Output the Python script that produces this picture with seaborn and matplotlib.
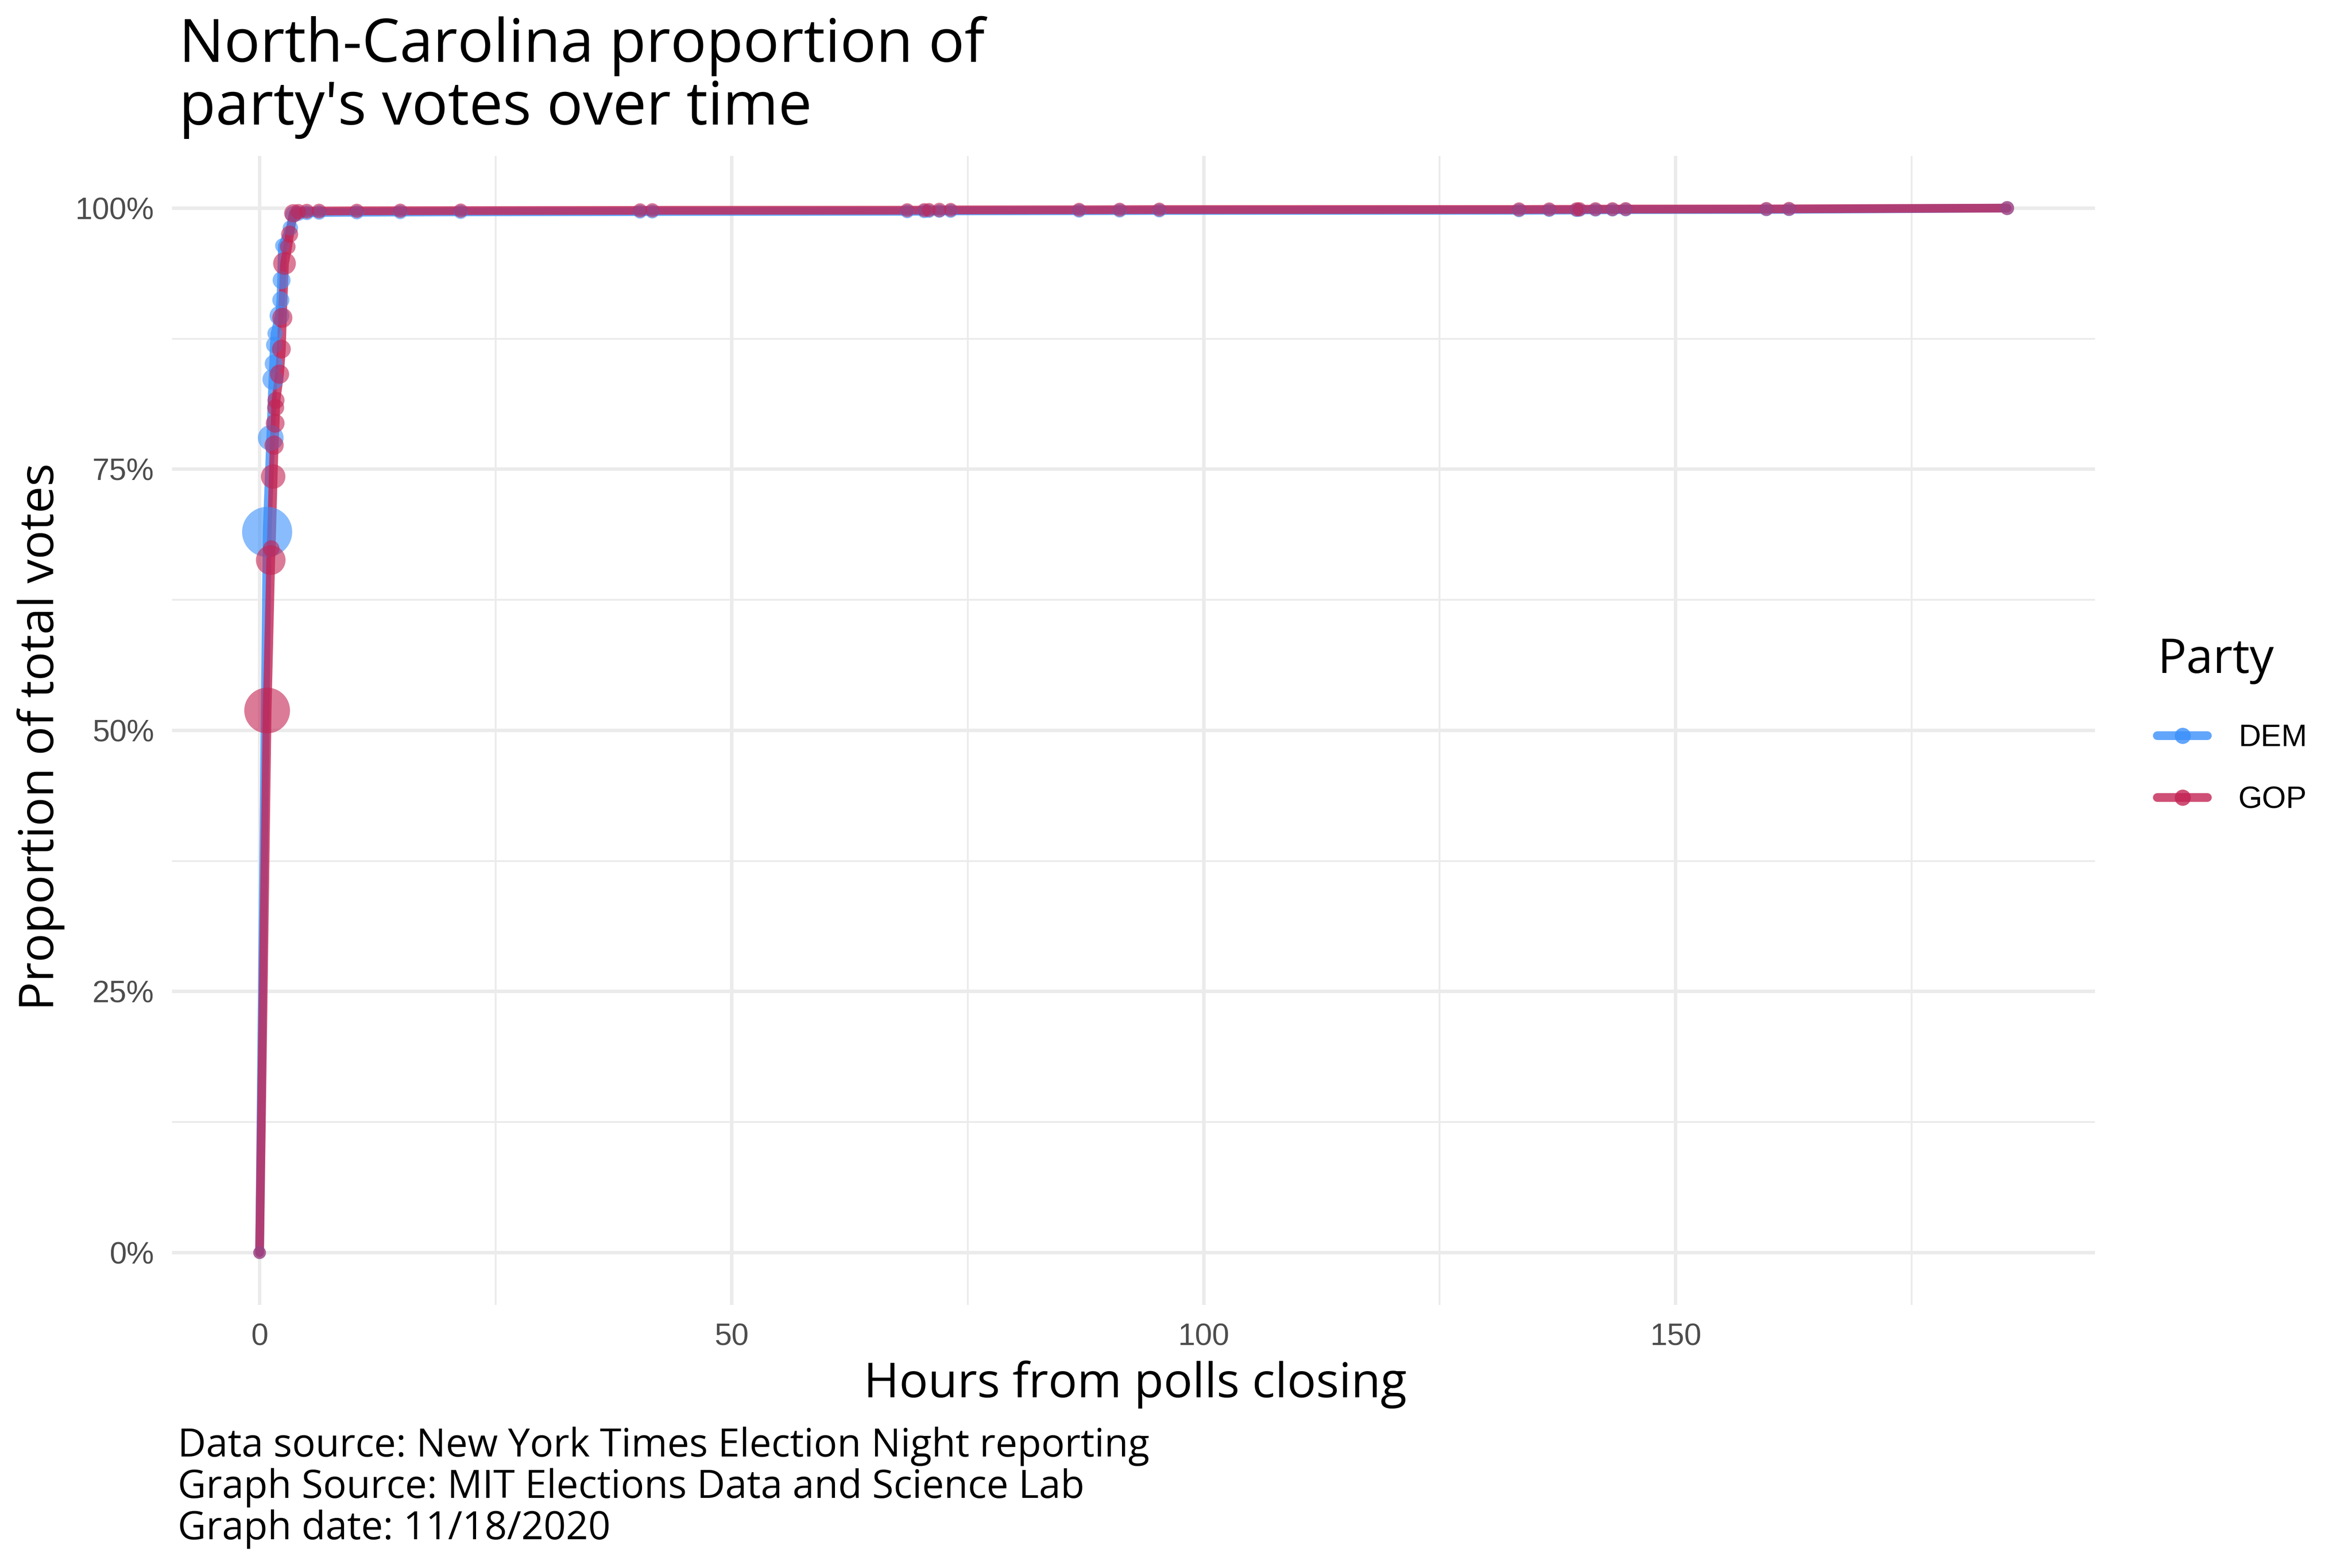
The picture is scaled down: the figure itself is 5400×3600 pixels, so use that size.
import numpy as np
import pandas as pd
import seaborn as sns
import matplotlib as mpl
import matplotlib.pyplot as plt
from matplotlib.lines import Line2D
from matplotlib.ticker import PercentFormatter, MultipleLocator

# --- Data ---
# hours from polls closing, cumulative share of the party's votes (%), votes in that batch (thousands)
dem_hours = [0, 0.80, 1.18, 1.41, 1.49, 1.56, 1.64, 2.10, 2.25, 2.33, 2.42, 3.26, 3.57,
             4.1, 5.0, 6.3, 10.3, 14.9, 21.3, 40.3, 41.6, 68.6, 70.4, 70.9, 72.0, 73.2,
             86.8, 91.1, 95.3, 133.4, 136.6, 139.5, 139.8, 141.5, 143.3, 144.7, 159.6, 162.0, 185.1]
dem_share = [0, 69.0, 78.0, 83.6, 85.1, 86.9, 88.0, 89.7, 91.2, 93.1, 96.4, 98.1, 99.4,
             99.5, 99.55, 99.58, 99.6, 99.62, 99.64, 99.66, 99.67, 99.69, 99.7, 99.71, 99.72, 99.73,
             99.75, 99.76, 99.77, 99.79, 99.8, 99.81, 99.82, 99.83, 99.84, 99.85, 99.87, 99.88, 100.0]
dem_batch_k = [0, 1852, 225, 90, 36, 20, 9, 64, 25, 36, 5, 9, 20,
               8, 5, 4, 3, 3, 3, 2, 2, 2, 2, 1, 1, 2,
               2, 2, 2, 2, 1, 2, 1, 1, 1, 1, 1, 1, 2]

gop_hours = [0, 0.80, 1.18, 1.23, 1.44, 1.54, 1.65, 1.70, 1.74, 2.11, 2.31, 2.41, 2.64, 2.98, 3.18, 3.57,
             4.1, 5.0, 6.3, 10.3, 14.9, 21.3, 40.3, 41.6, 68.6, 70.4, 70.9, 72.0, 73.2,
             86.8, 91.1, 95.3, 133.4, 136.6, 139.5, 139.8, 141.5, 143.3, 144.7, 159.6, 162.0, 185.1]
gop_share = [0, 51.9, 66.3, 67.4, 74.3, 77.3, 79.4, 80.9, 81.6, 84.1, 86.5, 89.5, 94.7, 96.3, 97.5, 99.5,
             99.65, 99.7, 99.72, 99.74, 99.75, 99.76, 99.78, 99.79, 99.8, 99.81, 99.82, 99.82, 99.83,
             99.84, 99.85, 99.86, 99.87, 99.88, 99.88, 99.89, 99.9, 99.9, 99.91, 99.92, 99.93, 100.0]
gop_batch_k = [0, 1446, 381, 20, 183, 56, 49, 25, 25, 56, 49, 72, 133, 12, 25, 42,
               10, 6, 5, 3, 3, 3, 3, 3, 2, 2, 2, 4, 2,
               2, 2, 2, 3, 2, 3, 3, 2, 2, 2, 2, 2, 2]

parties = ['DEM', 'GOP']
party_colors = {'DEM': '#3b90fa', 'GOP': '#c32454'}

df = pd.concat([
    pd.DataFrame({'hours': dem_hours, 'share': dem_share, 'votes': dem_batch_k, 'party': 'DEM'}),
    pd.DataFrame({'hours': gop_hours, 'share': gop_share, 'votes': gop_batch_k, 'party': 'GOP'}),
], ignore_index=True)

# --- Fonts ---
head_font = ['Open Sans', 'DejaVu Sans']
tick_font = ['Liberation Sans', 'DejaVu Sans']

sns.set_theme(style='white')
plt.rcParams['font.family'] = tick_font

# point area scale like ggplot's scale_size (diameter grows with sqrt of value)
d_min, d_max = 7.0, 27.6
v_max = df['votes'].max()


def _fwd(v):
    return (d_min + (d_max - d_min) * np.sqrt(np.clip(v, 0, None) / v_max)) ** 2


def _inv(s):
    return v_max * ((np.sqrt(s) - d_min) / (d_max - d_min)) ** 2


size_norm = mpl.colors.FuncNorm((_fwd, _inv), vmin=0, vmax=v_max)

fig = plt.figure(figsize=(18, 12), dpi=300)
ax = fig.add_axes([0.0732, 0.1678, 0.8175, 0.7328])

sns.lineplot(data=df, x='hours', y='share', hue='party', hue_order=parties, palette=party_colors,
             estimator=None, sort=True, linewidth=4.8, alpha=0.8, legend=False, ax=ax)
sns.scatterplot(data=df, x='hours', y='share', hue='party', hue_order=parties, palette=party_colors,
                size='votes', sizes=(d_min ** 2, d_max ** 2), size_norm=size_norm,
                alpha=0.6, linewidth=0, legend=False, ax=ax, zorder=3)

ax.set_xlim(-9.26, 194.4)
ax.set_ylim(-5, 105)
ax.xaxis.set_major_locator(MultipleLocator(50))
ax.xaxis.set_minor_locator(MultipleLocator(25))
ax.yaxis.set_major_locator(MultipleLocator(25))
ax.yaxis.set_minor_locator(MultipleLocator(12.5))
ax.yaxis.set_major_formatter(PercentFormatter(xmax=100, decimals=0))

ax.grid(which='major', color='#ebebeb', linewidth=1.9)
ax.grid(which='minor', color='#ebebeb', linewidth=1.0)
ax.set_axisbelow(True)
for s in ax.spines.values():
    s.set_visible(False)
ax.tick_params(which='both', length=0, labelsize=17, colors='#4d4d4d')
ax.tick_params(axis='x', pad=10)
ax.tick_params(axis='y', pad=10)
ax.set_xlabel('')
ax.set_ylabel('')

# titles and caption
fig.text(0.0762, 0.9606, 'North-Carolina proportion of', fontsize=33, family=head_font,
         color='black', ha='left', va='baseline')
fig.text(0.0762, 0.9206, "party's votes over time", fontsize=33, family=head_font,
         color='black', ha='left', va='baseline')
fig.text(0.4826, 0.1089, 'Hours from polls closing', fontsize=26.5, family=head_font,
         color='black', ha='center', va='baseline')
fig.text(0.0174, 0.53, 'Proportion of total votes', fontsize=26.5, family=head_font,
         color='black', rotation=90, ha='center', va='center')
caption = ['Data source: New York Times Election Night reporting',
           'Graph Source: MIT Elections Data and Science Lab',
           'Graph date: 11/18/2020']
for i, line in enumerate(caption):
    fig.text(0.0756, 0.0711 - i * 0.0264, line, fontsize=21.5, family=head_font,
             color='black', ha='left', va='baseline')

# legend
handles = [Line2D([0], [0], color=party_colors[p], lw=4.8, alpha=0.8, marker='o',
                  markersize=8.9, markeredgewidth=0) for p in parties]
leg = fig.legend(handles, parties, loc='upper left', bbox_to_anchor=(0.912, 0.602),
                 frameon=False, fontsize=17, title='Party', handlelength=1.62,
                 handletextpad=1.0, labelspacing=1.08, borderaxespad=0, alignment='left')
for t in leg.get_texts():
    t.set_color('black')
leg.get_title().set_fontsize(26.5)
leg.get_title().set_family(head_font)
leg.get_title().set_color('black')
leg._legend_box.sep = 22

fig.savefig('out.png', dpi=300, facecolor='white')
